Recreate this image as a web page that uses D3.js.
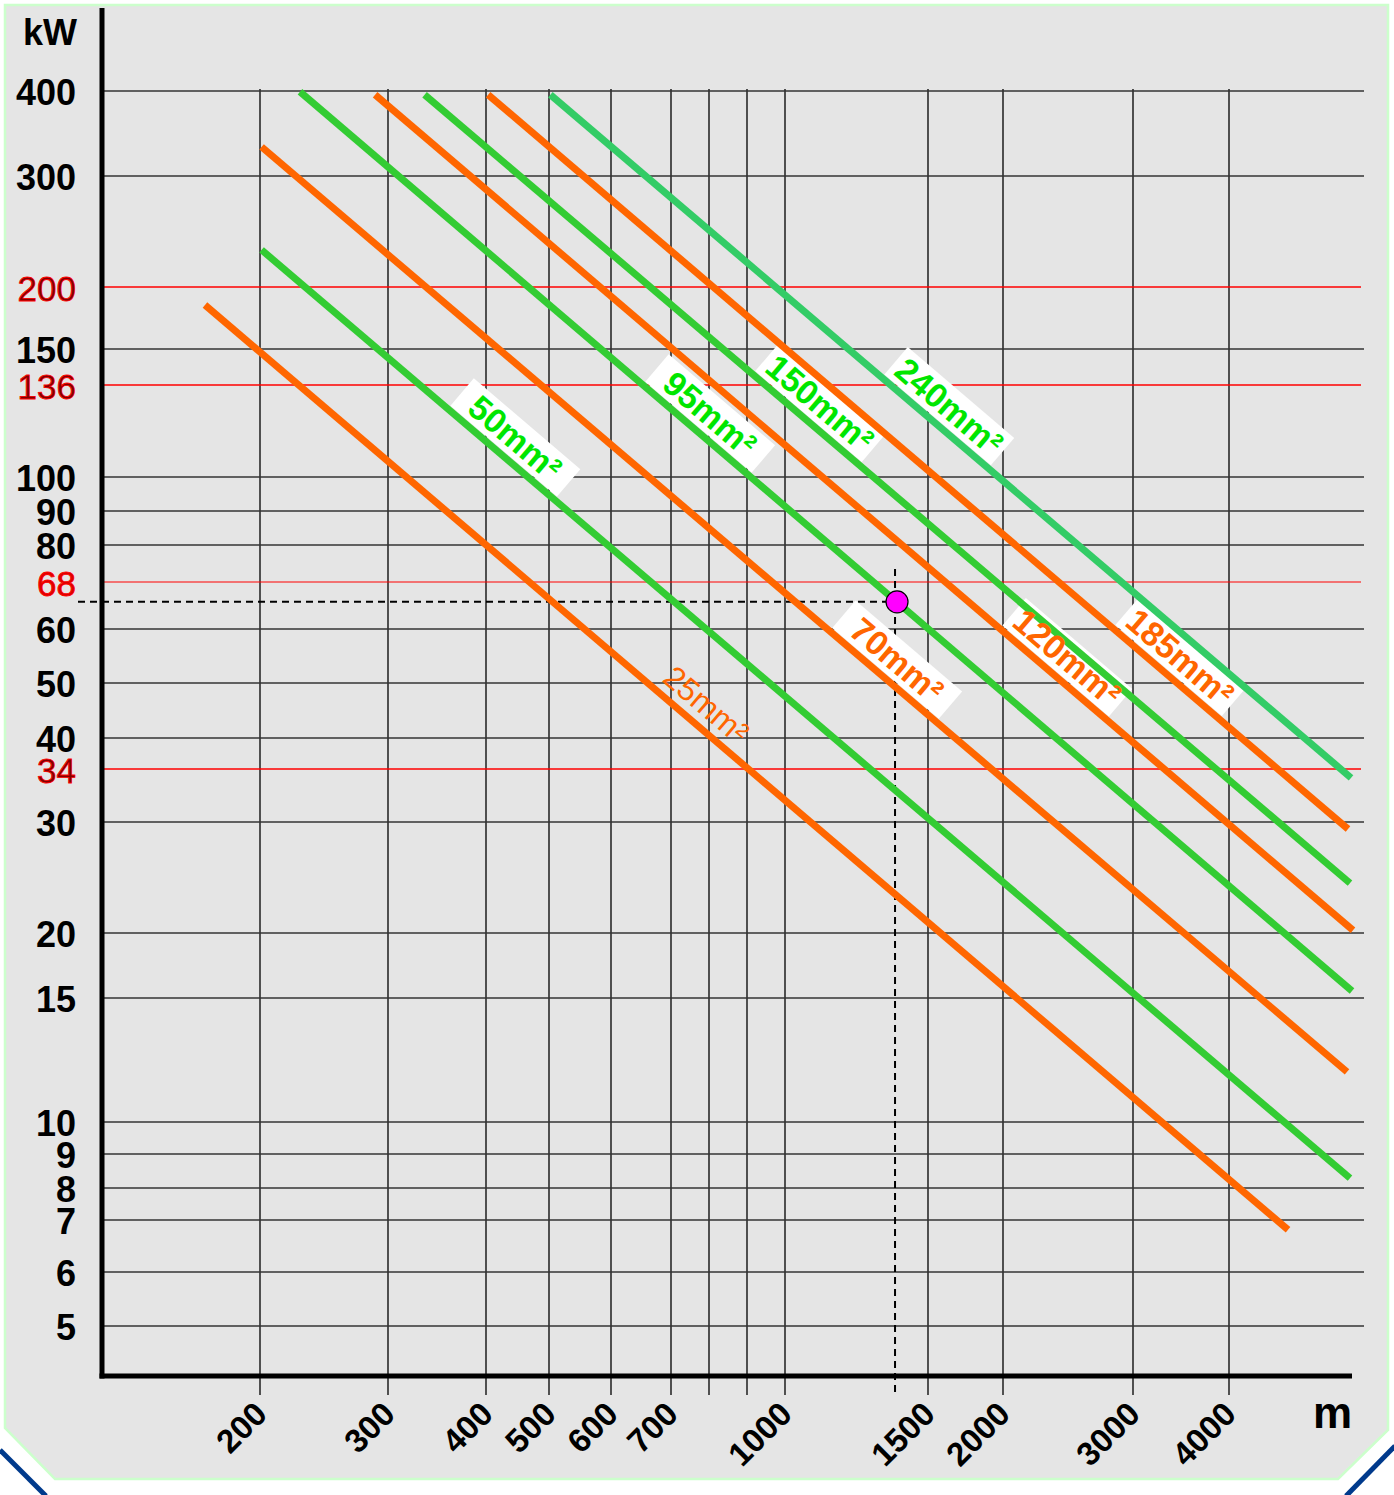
<!DOCTYPE html>
<html><head><meta charset="utf-8">
<script src="https://cdn.jsdelivr.net/npm/d3@7"></script>
<style>body{margin:0;background:#fff}svg{display:block}</style>
</head><body>
<script>
// ---------- data ----------
const xTicks = [200,300,400,500,600,700,800,900,1000,1500,2000,3000,4000];
const xTickLabels = ["200","300","400","500","600","700","","","1000","1500","2000","3000","4000"];
const yTicks = [5,6,7,8,9,10,15,20,30,34,40,50,60,68,80,90,100,136,150,200,300,400];
const yRedTicks = [34,68,136,200];

const cables      = ["25mm²","50mm²","70mm²","95mm²","120mm²","150mm²","185mm²","240mm²"];
const lengthStart = [168, 201, 201, 227, 288, 334, 403, 502];     // m
const powerStart  = [184, 229, 331, 399, 395, 395, 395, 395];     // kW
const lengthEnd   = [4774, 5748, 5697, 5783, 5800, 5748, 5714, 5766];
const powerEnd    = [6.8, 8.28, 11.78, 15.47, 20.2, 24.0, 29.24, 33.3];
const labelAt     = [754, 422, 1320, 764, 2338, 1061, 3312, 1541]; // m along each line

const pointLength = 1370, pointPower = 64.5, guideTopPower = 72;

// ---------- layout / style ----------
const W = 1394, H = 1495;
const xTickPx = [260,388,486,549,611,671,709,747,785,928,1003,1133,1229];
const yTickPx = [1326,1272,1220,1188,1154,1122,998,933,822,769,738,683,629,582,545,511,477,385,349,287,176,91];
const axisX = 102, axisY = 1376, gridRight = 1364, tickBottom = 1395;
const cableColor = ["#ff6600","#33cc33","#ff6600","#33cc33","#ff6600","#33cc33","#ff6600","#33cc66"];
const labelColor = ["#ff6600","#00e600","#ff6600","#00e600","#ff6600","#00e600","#ff6600","#00e600"];
const FONT = "'Liberation Sans', Arial, Helvetica, sans-serif";

const x = d3.scaleLog().domain(xTicks).range(xTickPx);
const y = d3.scaleLog().domain(yTicks).range(yTickPx);

const svg = d3.select("body").append("svg").attr("width", W).attr("height", H)
  .style("font-family", FONT);

// background panel
svg.append("polygon")
  .attr("points", [[5,5],[1388,5],[1388,1430],[1338,1479],[55,1479],[5,1428]].map(p=>p.join(",")).join(" "))
  .attr("fill", "#e5e5e5").attr("stroke", "#ccffcc").attr("stroke-width", 2.5);
svg.append("line").attr("x1",0).attr("y1",1450).attr("x2",46).attr("y2",1496)
  .attr("stroke","#003a8c").attr("stroke-width",5);
svg.append("line").attr("x1",1395).attr("y1",1446).attr("x2",1346).attr("y2",1496)
  .attr("stroke","#003a8c").attr("stroke-width",5);

// vertical grid
svg.append("g").selectAll("line").data(xTicks).join("line")
  .attr("x1", d => x(d)).attr("x2", d => x(d))
  .attr("y1", y(400) - 2).attr("y2", tickBottom)
  .attr("stroke", "#111").attr("stroke-width", 1.4);

// horizontal grid
svg.append("g").selectAll("line").data(yTicks).join("line")
  .attr("x1", axisX + 2).attr("x2", d => yRedTicks.includes(d) ? gridRight - 3 : gridRight)
  .attr("y1", d => y(d)).attr("y2", d => y(d))
  .attr("stroke", d => yRedTicks.includes(d) ? "#ff0000" : "#333")
  .attr("stroke-width", d => d === 68 ? 1.1 : 1.6);

// y axis labels
const yAx = svg.append("g").attr("transform", `translate(${axisX + 1},0)`)
  .call(d3.axisLeft(y).tickValues(yTicks).tickSize(0).tickPadding(27).tickFormat(d3.format("d")));
yAx.select(".domain").remove();
yAx.selectAll("text")
  .attr("dy", "0.38em")
  .style("font-family", FONT)
  .style("font-size", d => yRedTicks.includes(d) ? "35px" : "36px")
  .style("font-weight", d => yRedTicks.includes(d) ? "normal" : "bold")
  .attr("fill", d => yRedTicks.includes(d) ? (d === 68 ? "#dd0000" : "#800000") : "#000")
  .attr("stroke", d => yRedTicks.includes(d) ? "#ff0000" : "none")
  .attr("stroke-width", 0.8);

// x axis labels
svg.append("g").selectAll("text").data(xTicks.filter((d,i)=>xTickLabels[i] !== "")).join("text")
  .attr("transform", d => `translate(${x(d) + 9},${1416}) rotate(-45)`)
  .attr("text-anchor", "end")
  .style("font-size", "33px").style("font-weight", "bold")
  .text(d => xTickLabels[xTicks.indexOf(d)]);

// unit labels
svg.append("text").attr("x", 77).attr("y", 45).attr("text-anchor", "end")
  .style("font-size", "36px").style("font-weight", "bold").text("kW");
svg.append("text").attr("x", 1313).attr("y", 1428)
  .style("font-size", "44px").style("font-weight", "bold").text("m");

// dashed guides
const px = x(pointLength), py = y(pointPower);
svg.append("line").attr("x1", 78).attr("x2", px).attr("y1", py).attr("y2", py)
  .attr("stroke", "#000").attr("stroke-width", 2).attr("stroke-dasharray", "7 5");
svg.append("line").attr("x1", px - 1).attr("x2", px - 1).attr("y1", y(guideTopPower)).attr("y2", tickBottom)
  .attr("stroke", "#000").attr("stroke-width", 2).attr("stroke-dasharray", "7 5");

// label geometry
const labels = cables.map((c, i) => {
  const x0 = x(lengthStart[i]), y0 = y(powerStart[i]);
  const x1 = x(lengthEnd[i]), y1 = y(powerEnd[i]);
  const a = Math.atan2(y1 - y0, x1 - x0);
  const lx = x(labelAt[i]);
  const ly = y0 + (lx - x0) * (y1 - y0) / (x1 - x0);
  const d = 22;
  return { i, name: c, cx: lx + Math.sin(a) * d, cy: ly - Math.cos(a) * d, deg: a * 180 / Math.PI };
});

// label boxes (under the cable lines)
svg.append("g").selectAll("rect").data(labels.filter(l => l.i !== 0)).join("rect")
  .attr("transform", l => `translate(${l.cx},${l.cy}) rotate(${l.deg})`)
  .attr("x", -70).attr("y", -18).attr("width", 140).attr("height", 36)
  .attr("fill", "#fff");

// cable lines
svg.append("g").selectAll("line").data(cables).join("line")
  .attr("x1", (d,i) => x(lengthStart[i])).attr("y1", (d,i) => y(powerStart[i]))
  .attr("x2", (d,i) => x(lengthEnd[i])).attr("y2", (d,i) => y(powerEnd[i]))
  .attr("stroke", (d,i) => cableColor[i]).attr("stroke-width", 7).attr("stroke-linecap", "butt");

// label texts
svg.append("g").selectAll("text").data(labels).join("text")
  .attr("transform", l => `translate(${l.cx},${l.cy}) rotate(${l.deg})`)
  .attr("text-anchor", "middle").attr("dy", "0.36em")
  .style("font-size", l => l.i === 0 ? "32px" : "34px")
  .style("font-weight", l => l.i === 0 ? "normal" : "bold")
  .attr("fill", l => labelColor[l.i])
  .text(l => l.name);

// axes lines
svg.append("line").attr("x1", axisX).attr("x2", axisX).attr("y1", 8).attr("y2", axisY + 2.5)
  .attr("stroke", "#000").attr("stroke-width", 5);
svg.append("line").attr("x1", axisX - 2.5).attr("x2", 1352).attr("y1", axisY).attr("y2", axisY)
  .attr("stroke", "#000").attr("stroke-width", 5);

// operating point
svg.append("circle").attr("cx", px + 1).attr("cy", py).attr("r", 11)
  .attr("fill", "#ff00ff").attr("stroke", "#000").attr("stroke-width", 1.2);
</script>
</body></html>
